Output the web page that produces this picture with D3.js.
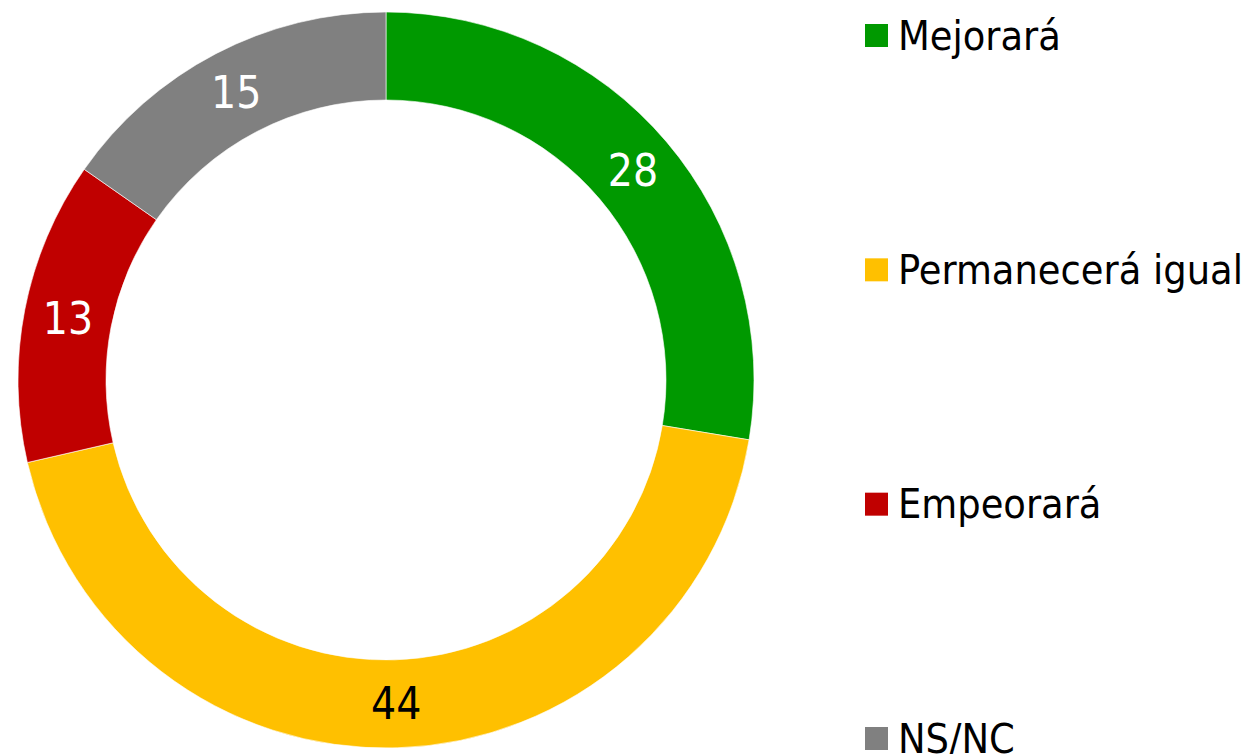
<!DOCTYPE html>
<html>
<head>
<meta charset="utf-8">
<script src="https://cdn.jsdelivr.net/npm/d3@7"></script>
<style>
  html, body { margin: 0; padding: 0; background: #fff; }
  svg { display: block; }
</style>
</head>
<body>
<svg id="chart"></svg>
<script>
const categories = ["Mejorará", "Permanecerá igual", "Empeorará", "NS/NC"];
const values = [27.6, 43.8, 13.3, 15.3];
const colors = ["#009900", "#FFC000", "#C00000", "#808080"];
const labelColors = ["#ffffff", "#000000", "#ffffff", "#ffffff"];

const width = 1260, height = 754;
const cx = 386, cy = 380;
const outerR = 368, innerR = 280;
const fontFamily = "'DejaVu Sans Condensed', 'DejaVu Sans', sans-serif";

const svg = d3.select("#chart")
    .attr("width", width)
    .attr("height", height);

const data = categories.map((c, i) => ({ cat: c, value: values[i], i: i }));

const pie = d3.pie()
    .value(d => d.value)
    .sort(null);

const arc = d3.arc()
    .innerRadius(innerR)
    .outerRadius(outerR);

const g = svg.append("g")
    .attr("transform", `translate(${cx}, ${cy})`);

const arcs = pie(data);

g.selectAll("path")
    .data(arcs)
    .join("path")
    .attr("d", arc)
    .attr("fill", d => colors[d.data.i])
    .attr("stroke", "#ffffff")
    .attr("stroke-width", 0.6);

g.selectAll("text.lbl")
    .data(arcs)
    .join("text")
    .attr("class", "lbl")
    .attr("x", d => arc.centroid(d)[0])
    .attr("y", d => arc.centroid(d)[1])
    .attr("text-anchor", "middle")
    .attr("dominant-baseline", "central")
    .attr("font-family", fontFamily)
    .attr("font-size", 44)
    .attr("fill", d => labelColors[d.data.i])
    .text(d => Math.round(d.data.value));

// legend
const legendY = d3.scalePoint()
    .domain(categories)
    .range([35.5, 738.5]);

const legend = svg.append("g")
    .attr("transform", "translate(865, 0)");

const items = legend.selectAll("g")
    .data(data)
    .join("g")
    .attr("transform", d => `translate(0, ${legendY(d.cat)})`);

items.append("rect")
    .attr("x", 0)
    .attr("y", -11.5)
    .attr("width", 23)
    .attr("height", 23)
    .attr("fill", d => colors[d.i]);

items.append("text")
    .attr("x", 33)
    .attr("y", 0)
    .attr("dominant-baseline", "central")
    .attr("font-family", fontFamily)
    .attr("font-size", 41)
    .attr("fill", "#000")
    .text(d => d.cat);
</script>
</body>
</html>
